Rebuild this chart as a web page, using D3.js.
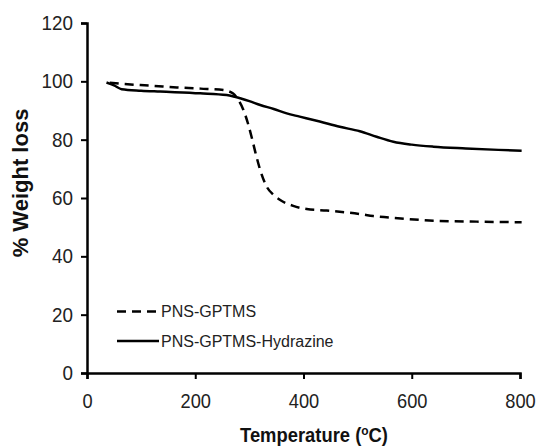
<!DOCTYPE html>
<html><head><meta charset="utf-8">
<script src="https://cdn.jsdelivr.net/npm/d3@7"></script>
<style>body{margin:0;background:#fff}svg{display:block}</style>
</head><body>
<script>
const seriesNames = ["PNS-GPTMS", "PNS-GPTMS-Hydrazine"];
const gptmsTemp = [42, 67, 120, 166, 210, 252, 270, 280, 289, 297, 304, 312, 320, 332, 345, 357, 381, 406, 443, 504, 529, 580, 640, 720, 803];
const gptmsWeight = [99.5, 99.1, 98.5, 97.9, 97.5, 97.0, 95.8, 93.5, 90.2, 85.8, 81.0, 75.0, 69.6, 63.9, 61.0, 59.3, 57.3, 56.2, 55.7, 54.5, 53.8, 53.0, 52.2, 51.9, 51.7];
const hydTemp = [36, 50, 64, 100, 135, 209, 258, 273, 300, 320, 345, 369, 393, 430, 467, 504, 535, 566, 600, 640, 700, 760, 803];
const hydWeight = [99.6, 98.6, 97.3, 96.8, 96.5, 95.9, 95.3, 94.7, 93.2, 91.9, 90.5, 89.0, 87.9, 86.2, 84.4, 82.9, 81.0, 79.3, 78.3, 77.6, 77.0, 76.5, 76.2];
const xTicks = [0, 200, 400, 600, 800];
const yTicks = [0, 20, 40, 60, 80, 100, 120];

const W = 537, H = 446;
const svg = d3.select("body").append("svg").attr("width", W).attr("height", H);
const x = d3.scaleLinear().domain([0, 800]).range([87, 520]);
const y = d3.scaleLinear().domain([0, 120]).range([373, 23]);

const xAxis = svg.append("g").attr("transform", "translate(0,373)")
  .call(d3.axisBottom(x).tickValues(xTicks).tickSize(6).tickPadding(14));
const yAxis = svg.append("g").attr("transform", "translate(87,0)")
  .call(d3.axisLeft(y).tickValues(yTicks).tickSize(6).tickPadding(8));
[xAxis, yAxis].forEach(g => {
  g.select(".domain").attr("stroke", "#000").attr("stroke-width", 2.5);
  g.selectAll(".tick line").attr("stroke", "#000").attr("stroke-width", 2);
  g.selectAll(".tick text").attr("fill", "#222")
    .attr("font-family", "'Liberation Sans', Arial, sans-serif").attr("font-size", 20.5);
});
xAxis.selectAll(".tick text").attr("transform", "scale(0.89,1)");
yAxis.selectAll(".tick text").attr("x", -14 / 0.92).attr("transform", "scale(0.92,1)");

const line = d3.line().x(d => x(d[0])).y(d => y(d[1])).curve(d3.curveMonotoneX);
const gData = d3.zip(gptmsTemp, gptmsWeight);
const hData = d3.zip(hydTemp, hydWeight);
svg.append("path").datum(hData).attr("d", line).attr("fill", "none")
  .attr("stroke", "#000").attr("stroke-width", 2.5);
svg.append("path").datum(gData).attr("d", line).attr("fill", "none")
  .attr("stroke", "#000").attr("stroke-width", 2.5).attr("stroke-dasharray", "9,6");

// legend
const leg = [{name: seriesNames[0], dash: "9,6", yy: 311.5}, {name: seriesNames[1], dash: null, yy: 341}];
leg.forEach(l => {
  svg.append("line").attr("x1", 117).attr("x2", 159).attr("y1", l.yy).attr("y2", l.yy)
    .attr("stroke", "#000").attr("stroke-width", 2.5).attr("stroke-dasharray", l.dash);
  svg.append("text").attr("x", 161).attr("y", l.yy + 5.5).text(l.name)
    .attr("font-family", "'Liberation Sans', Arial, sans-serif").attr("font-size", 16).attr("fill", "#222");
});

// titles
const xt = svg.append("text").attr("transform", "translate(314,442) scale(0.92,1)").attr("text-anchor", "middle")
  .attr("font-family", "'Liberation Sans', Arial, sans-serif")
  .attr("font-weight", "bold").attr("font-size", 20).attr("fill", "#111");
xt.append("tspan").text("Temperature (");
xt.append("tspan").attr("font-size", 13).attr("dy", -7).text("o");
xt.append("tspan").attr("dy", 7).text("C)");
svg.append("text").attr("transform", "translate(28,183) rotate(-90)").attr("text-anchor", "middle")
  .attr("font-family", "'Liberation Sans', Arial, sans-serif").attr("font-weight", "bold")
  .attr("font-size", 22).attr("fill", "#111").text("% Weight loss");
</script>
</body></html>
